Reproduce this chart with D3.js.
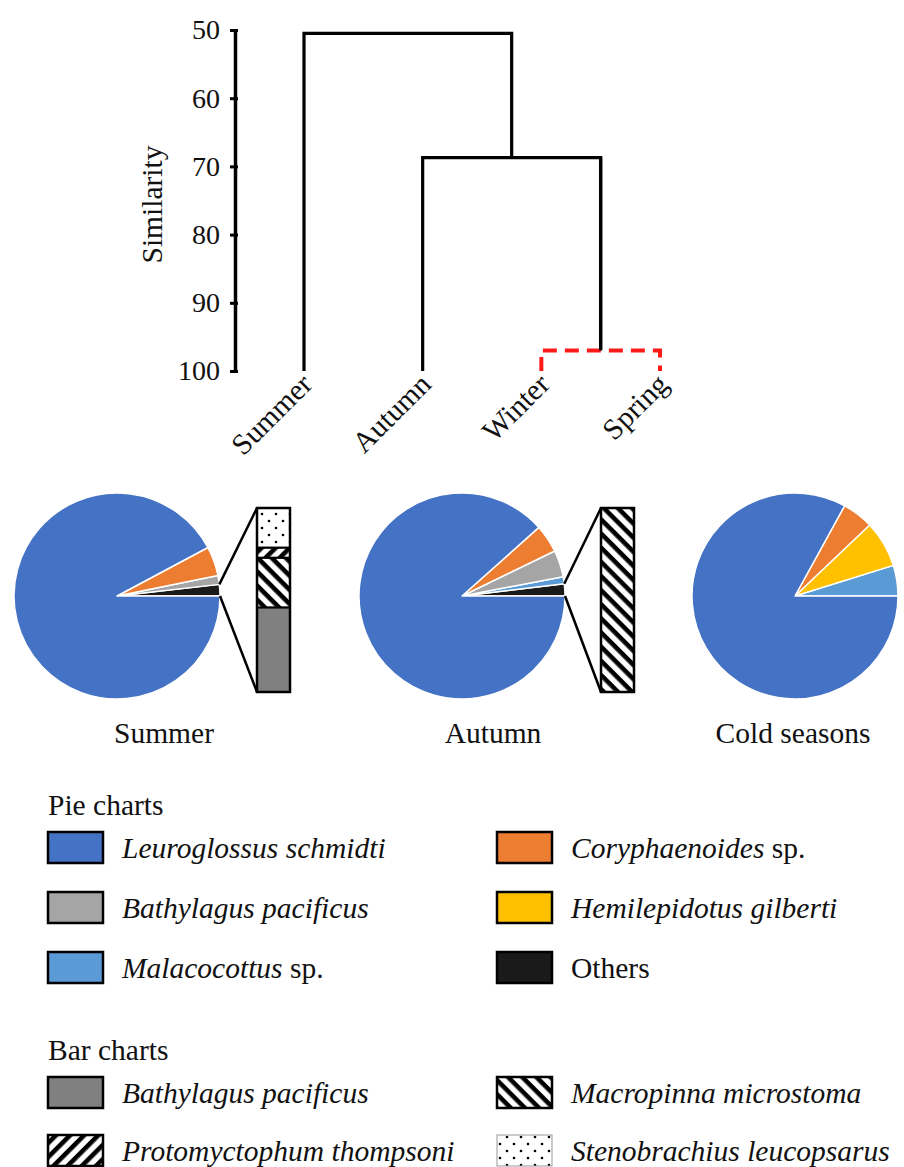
<!DOCTYPE html>
<html>
<head>
<meta charset="utf-8">
<script src="https://cdn.jsdelivr.net/npm/d3@7"></script>
<style>
  body { margin: 0; background: #fff; }
  text { font-family: 'Liberation Serif', 'Times New Roman', serif; fill: #111; }
</style>
</head>
<body>
<div id="chart"></div>
<script>
// dendrogram data
const leaves = ["Summer", "Autumn", "Winter", "Spring"];
const simTicks = [50, 60, 70, 80, 90, 100];
// [left node, right node, similarity]  (nodes are leaf names or earlier merge index)
const merges = [
  ["Winter", "Spring", 97],
  ["Autumn", 0, 68.7],
  ["Summer", 1, 50.5]
];

// pie data (slices listed counter-clockwise from 3 o'clock)
const pieNames = ["Summer", "Autumn", "Cold seasons"];
const summerSpecies = ["Others", "Bathylagus", "Coryphaenoides", "Leuroglossus"];
const summerValues = [1.8, 1.4, 4.6, 92.2];
const autumnSpecies = ["Others", "Malacocottus", "Bathylagus", "Coryphaenoides", "Leuroglossus"];
const autumnValues = [1.9, 1.1, 4.2, 4.4, 88.4];
const coldSpecies = ["Malacocottus", "Hemilepidotus", "Coryphaenoides", "Leuroglossus"];
const coldValues = [4.8, 7.3, 4.9, 83.0];

// bar data: composition of "Others" (bottom to top)
const barSpecies = ["BathylagusBar", "Macropinna", "Protomyctophum", "Stenobrachius"];
const summerBar = [46, 27, 5.5, 21.5];
const autumnBar = [0, 100, 0, 0];

const pieLegend = [
  ["Leuroglossus", "Leuroglossus schmidti", ""],
  ["Coryphaenoides", "Coryphaenoides", " sp."],
  ["Bathylagus", "Bathylagus pacificus", ""],
  ["Hemilepidotus", "Hemilepidotus gilberti", ""],
  ["Malacocottus", "Malacocottus", " sp."],
  ["Others", "", "Others"]
];
const barLegend = [
  ["BathylagusBar", "Bathylagus pacificus"],
  ["Macropinna", "Macropinna microstoma"],
  ["Protomyctophum", "Protomyctophum thompsoni"],
  ["Stenobrachius", "Stenobrachius leucopsarus"]
];

const fills = {
  Leuroglossus: "#4472c4",
  Coryphaenoides: "#ed7d31",
  Bathylagus: "#a5a5a5",
  Hemilepidotus: "#ffc000",
  Malacocottus: "#5b9bd5",
  Others: "#1a1a1a",
  BathylagusBar: "#808080",
  Macropinna: "url(#hatchBack)",
  Protomyctophum: "url(#hatchFwd)",
  Stenobrachius: "url(#dots)"
};

const width = 904, height = 1167;
const fs = 29.5;
const svg = d3.select("#chart").append("svg")
  .attr("width", width).attr("height", height);

// patterns
const defs = svg.append("defs");
function hatch(id, angle) {
  const p = defs.append("pattern").attr("id", id)
    .attr("patternUnits", "userSpaceOnUse")
    .attr("width", 10).attr("height", 10)
    .attr("patternTransform", `rotate(${angle})`);
  p.append("rect").attr("width", 10).attr("height", 10).attr("fill", "#fff");
  p.append("rect").attr("y", 0).attr("width", 10).attr("height", 4.6).attr("fill", "#000");
}
hatch("hatchBack", 45);
hatch("hatchFwd", -45);
const dp = defs.append("pattern").attr("id", "dots")
  .attr("patternUnits", "userSpaceOnUse").attr("width", 14).attr("height", 14);
dp.append("rect").attr("width", 14).attr("height", 14).attr("fill", "#fff");
dp.append("circle").attr("cx", 3).attr("cy", 3).attr("r", 1.3).attr("fill", "#000");
dp.append("circle").attr("cx", 10).attr("cy", 10).attr("r", 1.3).attr("fill", "#000");

// ---------- dendrogram ----------
const x = d3.scalePoint().domain(leaves).range([304, 660]);
const y = d3.scaleLinear().domain([50, 100]).range([30, 371]);

const yAxis = svg.append("g")
  .attr("transform", "translate(235,0)")
  .call(d3.axisLeft(y).tickValues(simTicks).tickSizeOuter(0).tickSizeInner(5).tickPadding(10));
yAxis.select(".domain").attr("stroke", "#000").attr("stroke-width", 3.5);
yAxis.selectAll(".tick line").attr("x1", -5).attr("x2", 3).attr("stroke", "#000").attr("stroke-width", 3);
yAxis.selectAll(".tick text")
  .attr("font-size", 28).attr("fill", "#111")
  .style("font-family", "'Liberation Serif', 'Times New Roman', serif");

svg.append("text")
  .attr("transform", `translate(162,${(y(50) + y(100)) / 2 + 4}) rotate(-90)`)
  .attr("text-anchor", "middle").attr("font-size", fs)
  .text("Similarity");

// node positions
const nodes = [];
function pos(n) {
  if (typeof n === "string") return { x: x(n), sim: 100 };
  return nodes[n];
}
merges.forEach(([a, b, s], i) => {
  const pa = pos(a), pb = pos(b);
  nodes.push({ x: (pa.x + pb.x) / 2, sim: s, a: pa, b: pb, red: i === 0 });
});

const dendro = svg.append("g").attr("fill", "none");
nodes.forEach(n => {
  const path = d3.path();
  path.moveTo(n.a.x, y(n.a.sim));
  path.lineTo(n.a.x, y(n.sim));
  path.lineTo(n.b.x, y(n.sim));
  path.lineTo(n.b.x, y(n.b.sim));
  dendro.append("path").attr("d", path.toString())
    .attr("stroke", n.red ? "#ff1a1a" : "#000")
    .attr("stroke-width", n.red ? 4 : 3.2)
    .attr("stroke-dasharray", n.red ? "14,8" : null);
});
// stem from the winter/spring node up to its parent drawn solid
dendro.append("path")
  .attr("d", `M${nodes[0].x},${y(nodes[0].sim) - 1.5}V${y(nodes[1].sim)}`)
  .attr("stroke", "#000").attr("stroke-width", 3.2);

svg.append("g").selectAll("text").data(leaves).join("text")
  .attr("transform", d => `translate(${x(d) + 10},${y(100) + 15}) rotate(-45)`)
  .attr("text-anchor", "end").attr("font-size", fs)
  .text(d => d);

// ---------- pies ----------
const R = 103;
const pie = d3.pie().sort(null).startAngle(Math.PI / 2).endAngle(Math.PI / 2 - 2 * Math.PI);
const arc = d3.arc().innerRadius(0).outerRadius(R);
const pieSets = [
  { cx: 117, cy: 596, species: summerSpecies, values: summerValues, label: 164, bar: summerBar, bx: 257 },
  { cx: 462, cy: 596, species: autumnSpecies, values: autumnValues, label: 493, bar: autumnBar, bx: 601 },
  { cx: 795, cy: 596, species: coldSpecies, values: coldValues, label: 793, bar: null }
];
const barY = d3.scaleLinear().domain([0, 100]).range([692, 508]);
const barW = 33;

pieSets.forEach((p, i) => {
  const g = svg.append("g").attr("transform", `translate(${p.cx},${p.cy})`);
  const arcs = pie(p.values);
  g.selectAll("path").data(arcs).join("path")
    .attr("d", arc)
    .attr("fill", (d, k) => fills[p.species[k]])
    .attr("stroke", "#fff").attr("stroke-width", 1.5).attr("stroke-linejoin", "round");

  svg.append("text").attr("x", p.label).attr("y", 743)
    .attr("text-anchor", "middle").attr("font-size", fs).text(pieNames[i]);

  if (!p.bar) return;
  const others = arcs[p.species.indexOf("Others")];
  const a = others.endAngle;
  const px = p.cx + R * Math.sin(a), py = p.cy - R * Math.cos(a);
  const p0x = p.cx + R * Math.sin(others.startAngle), p0y = p.cy - R * Math.cos(others.startAngle);
  svg.append("line").attr("x1", px).attr("y1", py).attr("x2", p.bx).attr("y2", barY(100))
    .attr("stroke", "#000").attr("stroke-width", 2.5);
  svg.append("line").attr("x1", p0x).attr("y1", p0y).attr("x2", p.bx).attr("y2", barY(0))
    .attr("stroke", "#000").attr("stroke-width", 2.5);

  const stack = [];
  let acc = 0;
  p.bar.forEach((v, k) => { if (v > 0) stack.push({ s: barSpecies[k], y0: acc, y1: acc + v }); acc += v; });
  const bg = svg.append("g");
  bg.selectAll("rect").data(stack).join("rect")
    .attr("x", p.bx).attr("width", barW)
    .attr("y", d => barY(d.y1)).attr("height", d => barY(d.y0) - barY(d.y1))
    .attr("fill", d => fills[d.s])
    .attr("stroke", "#000").attr("stroke-width", 2);
  bg.append("rect").attr("x", p.bx).attr("y", barY(100)).attr("width", barW)
    .attr("height", barY(0) - barY(100)).attr("fill", "none")
    .attr("stroke", "#000").attr("stroke-width", 2.5);
});

// ---------- legends ----------
const colX = [48, 497], textOff = 74, boxW = 55, boxH = 31;

function legendBlock(title, titleY, rows, firstY, step) {
  svg.append("text").attr("x", 48).attr("y", titleY).attr("font-size", fs).text(title);
  rows.forEach((r, i) => {
    const cx = colX[i % 2], ry = firstY + Math.floor(i / 2) * step;
    const isDots = r[0] === "Stenobrachius";
    svg.append("rect").attr("x", cx).attr("y", ry).attr("width", boxW).attr("height", boxH)
      .attr("fill", fills[r[0]])
      .attr("stroke", isDots ? "#999" : "#000").attr("stroke-width", isDots ? 1 : 2.5);
    const t = svg.append("text").attr("x", cx + textOff).attr("y", ry + boxH / 2 + 10).attr("font-size", fs);
    if (r[1]) t.append("tspan").attr("font-style", "italic").text(r[1]);
    if (r[2]) t.append("tspan").text(r[2]);
  });
}
legendBlock("Pie charts", 815, pieLegend, 832, 60);
legendBlock("Bar charts", 1060, barLegend, 1077, 58);
</script>
</body>
</html>
